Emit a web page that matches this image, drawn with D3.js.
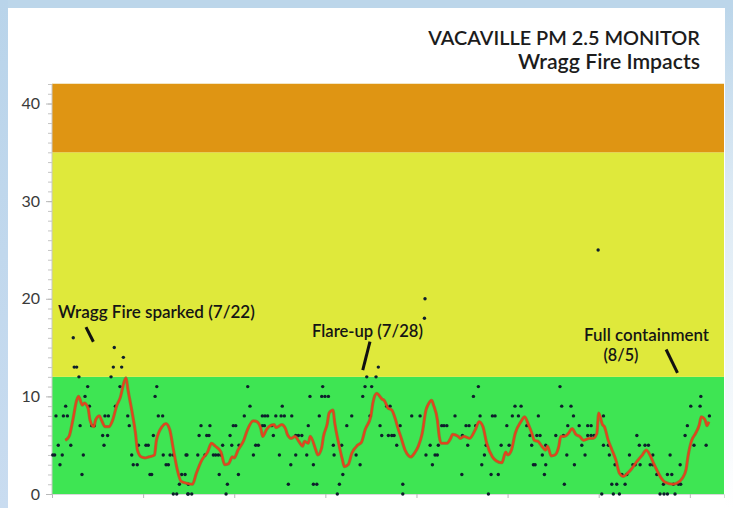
<!DOCTYPE html>
<html><head><meta charset="utf-8">
<script src="https://cdn.jsdelivr.net/npm/d3@7"></script>
<style>
html,body{margin:0;padding:0;background:#fff;}
svg{display:block;}
</style></head><body>
<svg id="chart" width="733" height="508"></svg>
<script>
// ---------------- DATA ----------------
const titleLines = ["VACAVILLE PM 2.5 MONITOR", "Wragg Fire Impacts"];
const yTickValues = [0, 10, 20, 30, 40];
const xTickHours = [0, 48, 96, 144, 192, 240, 288, 336];
const bandBreaks = [0, 12, 35, 42];           // PM2.5 category limits
const bandNames = ["Good", "Moderate", "USG"];

// running average (red line): hour index, value
const avgHours = [7,9,11,13,14,16,17,19,20,22,23,25,26,28,30,32,34,36,38,39,40,42,44,45,47,49,51,54,55,58,60,62,64,66,68,71,74,76,79,82,84,86,89,91,93,95,96,98,101,103,106,108,110,111,113,115,117,118,121,123,124,126,128,130,132,133,135,136,139,140,142,143,145,146,148,149,151,153,154,156,158,161,163,165,168,169,171,174,175,177,179,181,182,184,186,188,189,191,193,195,197,198,200,201,203,204,205,208,210,211,214,215,217,220,223,225,227,229,232,234,237,239,240,242,244,247,249,251,253,254,256,258,260,261,263,265,267,268,270,272,274,276,278,280,283,285,287,288,290,291,293,295,297,299,301,303,305,308,311,313,315,317,319,321,323,327,329,332,334,335,337,339,341,342,344,345,346];
const avgValues = [5.5,5.9,7.6,9.6,10.0,9.1,9.3,8.8,7.6,6.9,7.6,8.0,7.6,6.9,6.9,7.6,9.0,9.9,11.5,11.9,10.7,8.6,6.2,4.5,3.8,3.7,3.8,4.0,5.5,6.9,7.2,6.6,4.5,2.5,1.3,1.1,1.0,2.1,3.5,4.3,5.2,4.9,4.3,3.0,3.1,3.8,3.7,4.5,5.5,6.6,7.5,7.4,6.7,5.9,6.6,7.0,7.1,6.8,7.1,6.7,6.1,5.7,5.9,5.4,4.9,5.4,5.2,5.9,4.5,4.0,4.7,5.9,7.2,8.3,8.6,7.2,5.2,3.5,2.8,3.0,4.2,5.0,5.3,6.6,8.0,9.3,10.3,9.7,9.6,8.8,8.6,7.6,6.9,5.7,4.5,3.9,3.8,4.2,4.9,6.2,8.6,9.1,9.6,9.1,7.6,5.9,5.2,5.2,5.7,6.1,5.9,5.7,5.9,5.7,6.6,7.4,6.9,5.2,3.8,3.4,3.2,4.3,4.0,4.5,6.2,7.4,7.9,7.1,6.1,5.5,5.4,4.9,4.5,4.9,3.9,4.0,4.9,5.9,5.9,6.2,6.7,6.1,5.9,5.5,5.7,5.7,6.2,8.3,7.1,6.9,5.5,4.5,3.5,2.1,1.8,2.1,2.5,3.3,4.0,4.5,4.0,3.1,2.3,1.6,1.2,1.0,1.1,1.6,2.5,3.8,5.5,6.2,7.1,7.9,7.6,7.0,7.4];

// hourly readings (dots): [hour, µg/m³]
const hourlyReadings = [
[11.2,16],[11.7,13],[13.0,13],[14.2,12],[18.8,11],[17.4,10],[7.2,9],[2.1,8],[6.0,8],[8.1,8],[19.7,9],[14.8,7],[20.9,7],[22.3,7],[9.9,5],[3.3,5],[0.4,4],[1.4,4],[5.4,4],[16.5,4],[4.2,3],[15.8,2],[32.8,15],[37.6,14],[32.3,13],[36.7,13],[31.1,12],[35.8,11],[33.4,9],[27.9,8],[29.7,8],[39.9,8],[40.7,7],[26.7,6],[29.3,6],[27.4,5],[45.5,5],[49.5,5],[50.7,5],[42.0,4],[42.8,3],[44.9,3],[51.6,2],[52.5,2],[55.2,11],[54.3,10],[56.0,8],[58.3,8],[53.4,6],[58.6,4],[62.2,4],[63.9,4],[60.1,3],[61.3,3],[70.6,4],[68.3,2],[70.1,2],[67.1,1],[63.9,0],[65.7,0],[71.5,0],
[103.1,11],[104.3,9],[121.3,9],[101.3,8],[110.8,8],[112.2,8],[113.6,8],[117.9,8],[120.7,8],[122.4,8],[126.3,8],[78.5,7],[83.2,7],[95.5,7],[96.8,7],[110.8,7],[111.9,7],[115.8,7],[135.0,7],[77.5,6],[81.5,6],[82.7,6],[93.8,6],[116.6,6],[128.4,6],[129.8,6],[131.6,6],[89.9,5],[94.7,5],[98.5,5],[107.3,5],[108.7,5],[71.1,4],[76.8,4],[80.6,4],[85.0,4],[86.2,4],[87.6,4],[89.0,4],[106.1,4],[119.8,4],[128.4,4],[134.2,4],[125.8,3],[137.7,3],[88.1,2],[98.2,2],[71.8,1],[92.4,1],[124.5,1],[137.7,1],[139.5,1],[71.8,0],[73.6,0],[91.7,0],[135.9,10],[142.1,10],[142.6,11],[140.8,8],
[196.5,20],[196.2,18],[171.9,13],[165.8,12],[170.7,12],[164.9,11],[168.4,11],[143.8,10],[145.6,10],[163.7,10],[176.3,9],[178.1,9],[157.9,8],[167.5,8],[189.5,8],[193.9,8],[212.3,8],[155.3,7],[172.8,7],[183.4,7],[205.3,7],[206.5,7],[208.0,7],[173.7,6],[177.2,6],[179.0,6],[180.2,6],[148.2,5],[152.6,5],[181.6,5],[199.2,5],[203.5,5],[148.6,4],[160.2,4],[197.0,4],[201.8,4],[203.0,4],[162.3,3],[200.4,3],[153.2,2],[151.4,1],[184.8,1],[150.3,0],[184.8,0],
[224.6,11],[267.6,11],[222.0,10],[243.9,9],[247.1,9],[268.5,9],[273.4,9],[225.5,8],[232.0,8],[233.4,8],[242.5,8],[245.7,8],[256.2,8],[274.7,8],[218.1,7],[219.7,7],[223.2,7],[239.6,7],[250.1,7],[271.7,7],[277.7,7],[282.2,7],[284.0,7],[216.2,6],[251.8,6],[255.4,6],[257.1,6],[265.4,6],[269.4,6],[282.2,6],[284.0,6],[219.0,5],[228.7,5],[236.6,5],[240.8,5],[252.7,5],[260.1,5],[279.1,5],[227.8,4],[258.3,4],[271.2,4],[280.8,4],[226.4,3],[253.6,3],[254.5,3],[260.1,3],[275.2,3],[215.9,2],[231.3,2],[235.1,2],[259.4,2],[269.9,1],[229.9,0],
[287.7,25],[341.8,10],[336.5,9],[341.4,9],[290.5,8],[346.3,8],[334.7,7],[285.6,6],[308.1,6],[333.5,6],[290.5,5],[293.1,5],[309.4,5],[312.4,5],[314.2,5],[338.2,5],[344.6,5],[293.6,4],[304.2,4],[316.5,4],[325.6,4],[296.6,3],[306.0,3],[307.2,3],[309.8,3],[315.1,3],[316.5,3],[330.9,3],[300.2,2],[302.8,2],[318.6,2],[324.2,2],[326.5,2],[294.9,1],[297.5,1],[301.9,1],[322.1,1],[327.3,1],[330.0,1],[331.2,1],[289.6,0],[295.7,0],[298.9,0],[320.3,0],[322.4,0],[324.2,0],[328.2,0]
];

const annotationTexts = ["Wragg Fire sparked (7/22)", "Flare-up (7/28)", "Full containment", "(8/5)"];

// ---------------- DRAW ----------------
const W = 733, H = 508;
const svg = d3.select("#chart");
const defs = svg.append("defs");

const gl = defs.append("linearGradient").attr("id","leftStrip").attr("x1",0).attr("y1",0).attr("x2",0).attr("y2",1);
gl.append("stop").attr("offset","0%").attr("stop-color","#b9d4ea");
gl.append("stop").attr("offset","100%").attr("stop-color","#c9dcf0");
const gr = defs.append("linearGradient").attr("id","rightStrip").attr("x1",0).attr("y1",0).attr("x2",0).attr("y2",1);
gr.append("stop").attr("offset","0%").attr("stop-color","#bcd6ea");
gr.append("stop").attr("offset","35%").attr("stop-color","#dbe9f4");
gr.append("stop").attr("offset","100%").attr("stop-color","#ffffff");

svg.append("rect").attr("width",W).attr("height",H).attr("fill","#ffffff");
svg.append("rect").attr("x",0).attr("y",0).attr("width",W).attr("height",8).attr("fill","#bcd6ea");
svg.append("rect").attr("x",0).attr("y",0).attr("width",8).attr("height",H).attr("fill","url(#leftStrip)");
svg.append("rect").attr("x",725).attr("y",8).attr("width",8).attr("height",H-8).attr("fill","url(#rightStrip)");

const x = d3.scaleLinear().domain([0, 354]).range([52, 724]);
const y = d3.scaleLinear().domain([0, 42]).range([494, 84]);

// bands
const bandColors = ["#3ee553", "#dfe93b", "#df9513"];
svg.append("g").selectAll("rect").data(bandNames).join("rect")
  .attr("x", x(0)).attr("width", x(354) - x(0))
  .attr("y", (d,i) => y(bandBreaks[i+1]))
  .attr("height", (d,i) => y(bandBreaks[i]) - y(bandBreaks[i+1]))
  .attr("fill", (d,i) => bandColors[i]);
svg.append("line").attr("x1",x(0)).attr("x2",x(354)).attr("y1",y(42)-0.5).attr("y2",y(42)-0.5)
  .attr("stroke","#f3e6c4").attr("stroke-width",1);

const font = "Lato, 'Open Sans', sans-serif";

// y axis minor ticks
const yMinor = svg.append("g").attr("transform",`translate(${x(0)},0)`)
  .call(d3.axisLeft(y).tickValues(d3.range(0, 43, 1)).tickSize(4).tickFormat(""));
yMinor.select(".domain").remove();
yMinor.selectAll("line").attr("stroke","#c4c4c4");
const yAxis = svg.append("g").attr("transform",`translate(${x(0)},0)`)
  .call(d3.axisLeft(y).tickValues(yTickValues).tickSize(6).tickPadding(6));
yAxis.select(".domain").attr("stroke","#c8c8c8").attr("d", `M0,${y(0)}V${y(42)}`);
yAxis.selectAll("line").attr("stroke","#b8b8b8");
yAxis.selectAll("text").attr("font-family",font).attr("font-size",16)
  .attr("fill","#3a3a3a");

// x axis
const xAxis = svg.append("g").attr("transform",`translate(0,${y(0)})`)
  .call(d3.axisBottom(x).tickValues(xTickHours).tickSize(4).tickFormat(""));
xAxis.select(".domain").attr("stroke","#d8d8d8");
xAxis.selectAll("line").attr("stroke","#b8b8b8");

// dots
svg.append("g").selectAll("circle").data(hourlyReadings).join("circle")
  .attr("cx", d => x(d[0])).attr("cy", d => y(d[1])).attr("r", 1.7)
  .attr("fill", "#0e1e2c");

// running average line
const avg = avgHours.map((h,i) => [h, avgValues[i]]);
const lineGen = d3.line().x(d => x(d[0])).y(d => y(d[1])).curve(d3.curveMonotoneX);
svg.append("path").datum(avg).attr("d", lineGen).attr("fill","none")
  .attr("stroke","#a65a28").attr("stroke-width",3.2).attr("stroke-opacity",0.7).attr("stroke-linejoin","round");
svg.append("path").datum(avg).attr("d", lineGen).attr("fill","none")
  .attr("stroke","#e8401c").attr("stroke-width",1.8).attr("stroke-linejoin","round");

// text helper: fit to width
function fitText(sel, targetW) {
  const w = sel.node().getComputedTextLength();
  const fs = parseFloat(sel.attr("font-size"));
  sel.attr("font-size", (fs * targetW / w).toFixed(2));
}

// title
const t1 = svg.append("text").attr("x",700).attr("y",44.5).attr("text-anchor","end")
  .attr("font-family",font).attr("font-weight",600).attr("font-size",18).attr("fill","#1c1c1c")
  .text(titleLines[0]);
fitText(t1, 272);
const t2 = svg.append("text").attr("x",700).attr("y",68.5).attr("text-anchor","end")
  .attr("font-family",font).attr("font-weight",600).attr("font-size",18).attr("fill","#1c1c1c")
  .text(titleLines[1]);
fitText(t2, 182);

// annotations (anchored in data units)
const annPos = [
  {h: 3.2, v: 18.05, w: 197},
  {h: 137.0, v: 16.1, w: 111},
  {h: 280.3, v: 15.7, w: 125},
  {h: 290.5, v: 13.6, w: 35}
];
annotationTexts.forEach((t, i) => {
  const s = svg.append("text").attr("x", x(annPos[i].h)).attr("y", y(annPos[i].v))
    .attr("font-family", font).attr("font-weight", 600).attr("font-size", 14).attr("fill", "#151515")
    .text(t);
  fitText(s, annPos[i].w);
});
const pointerLines = [
  [[17.9, 17.1], [21.8, 15.6]],
  [[167.5, 15.6], [163.7, 12.7]],
  [[323.5, 14.8], [329.5, 12.4]]
];
svg.append("g").selectAll("line").data(pointerLines).join("line")
  .attr("x1", d => x(d[0][0])).attr("y1", d => y(d[0][1]))
  .attr("x2", d => x(d[1][0])).attr("y2", d => y(d[1][1]))
  .attr("stroke", "#111").attr("stroke-width", 3);
</script>
</body></html>
